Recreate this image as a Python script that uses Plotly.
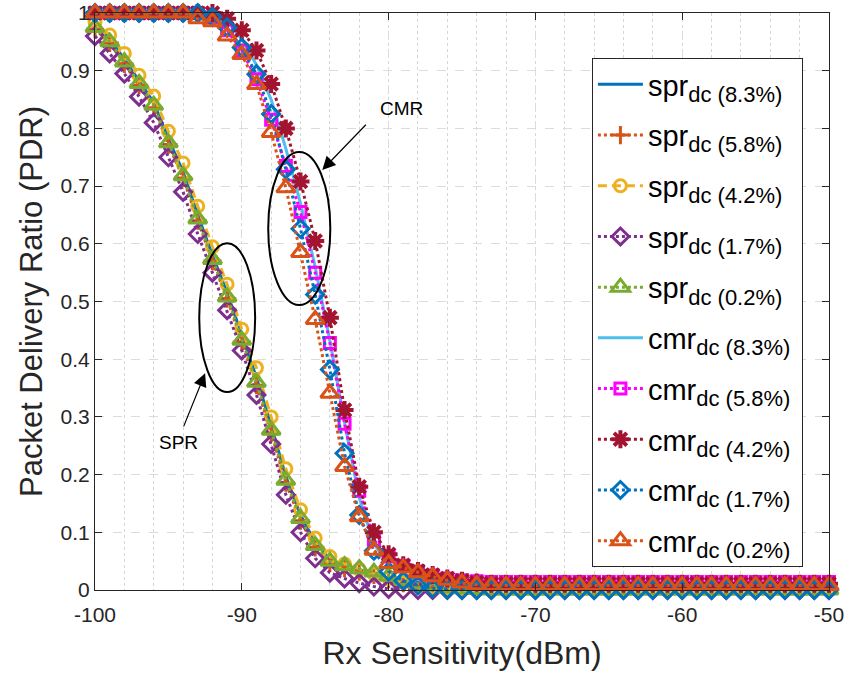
import plotly.graph_objects as go

x_dbm = list(range(-100, -49))

spr_83 = [0.978, 0.955, 0.92, 0.882, 0.845, 0.782, 0.725, 0.65, 0.58, 0.515, 0.44, 0.368, 0.285, 0.197, 0.13,
          0.082, 0.053, 0.042, 0.035, 0.028, 0.02, 0.013, 0.008, 0.004, 0.002, 0.001] + [0.0] * 25
spr_58 = [0.972, 0.948, 0.912, 0.875, 0.836, 0.772, 0.714, 0.64, 0.57, 0.505, 0.43, 0.355, 0.272, 0.186, 0.12,
          0.074, 0.047, 0.038, 0.032, 0.026, 0.019, 0.012, 0.007, 0.004, 0.002, 0.001] + [0.0] * 25
spr_42 = [0.985, 0.962, 0.93, 0.892, 0.856, 0.795, 0.74, 0.665, 0.595, 0.53, 0.452, 0.385, 0.30, 0.21, 0.139,
          0.09, 0.058, 0.045, 0.036, 0.028, 0.02, 0.013, 0.008, 0.004, 0.002, 0.001] + [0.0] * 25
spr_17 = [0.96, 0.93, 0.895, 0.855, 0.81, 0.75, 0.69, 0.617, 0.55, 0.485, 0.415, 0.338, 0.253, 0.165, 0.1,
          0.055, 0.03, 0.02, 0.012, 0.006, 0.002] + [0.0] * 30
spr_02 = [0.975, 0.95, 0.915, 0.878, 0.84, 0.775, 0.718, 0.643, 0.573, 0.508, 0.433, 0.36, 0.277, 0.19, 0.124,
          0.077, 0.05, 0.042, 0.037, 0.031, 0.024, 0.017, 0.011, 0.007, 0.004, 0.002, 0.001] + [0.0] * 24

cmr_83 = [1.0] * 9 + [0.985, 0.955, 0.91, 0.85, 0.765, 0.67, 0.56, 0.432, 0.29, 0.16, 0.08, 0.045, 0.028,
                      0.018, 0.012, 0.008, 0.006] + [0.005] * 25
cmr_58 = [1.0] * 8 + [0.992, 0.97, 0.935, 0.885, 0.815, 0.735, 0.655, 0.55, 0.428, 0.288, 0.172, 0.087, 0.058,
                      0.042, 0.032, 0.025, 0.02, 0.017, 0.015] + [0.014] * 24
cmr_42 = [1.0] * 9 + [0.99, 0.97, 0.935, 0.877, 0.80, 0.708, 0.605, 0.472, 0.312, 0.179, 0.1, 0.062, 0.043,
                      0.033, 0.026, 0.02, 0.016, 0.013] + [0.011] * 24
cmr_17 = [1.0] * 8 + [0.993, 0.975, 0.94, 0.894, 0.825, 0.729, 0.626, 0.512, 0.382, 0.237, 0.13, 0.068, 0.032,
                      0.016, 0.008, 0.003, 0.001] + [0.0] * 26
cmr_02 = [1.0] * 7 + [0.99, 0.985, 0.96, 0.928, 0.876, 0.793, 0.697, 0.585, 0.469, 0.341, 0.214, 0.127, 0.069,
                      0.046, 0.038, 0.03, 0.023, 0.017, 0.012, 0.009] + [0.008] * 24

series_bases = ["spr", "spr", "spr", "spr", "spr", "cmr", "cmr", "cmr", "cmr", "cmr"]
series_subs = ["dc (8.3%)", "dc (5.8%)", "dc (4.2%)", "dc (1.7%)", "dc (0.2%)",
               "dc (8.3%)", "dc (5.8%)", "dc (4.2%)", "dc (1.7%)", "dc (0.2%)"]
series_vals = [spr_83, spr_58, spr_42, spr_17, spr_02, cmr_83, cmr_58, cmr_42, cmr_17, cmr_02]

x_tickvals = [-100, -90, -80, -70, -60, -50]
x_ticktext = ["-100", "-90", "-80", "-70", "-60", "-50"]
y_tickvals = [0, 0.1, 0.2, 0.3, 0.4, 0.5, 0.6, 0.7, 0.8, 0.9, 1]
y_ticktext = ["0", "0.1", "0.2", "0.3", "0.4", "0.5", "0.6", "0.7", "0.8", "0.9", "1"]

styles = [
    dict(color="#0072BD", dash="solid", symbol=None),
    dict(color="#D95319", dash="dot", symbol="cross-thin-open"),
    dict(color="#EDB120", dash="9px,5px", symbol="circle-open"),
    dict(color="#7E2F8E", dash="dot", symbol="diamond-open"),
    dict(color="#77AC30", dash="dot", symbol="triangle-up-open"),
    dict(color="#4DBEEE", dash="solid", symbol=None),
    dict(color="#FF00FF", dash="dot", symbol="square-open"),
    dict(color="#A2142F", dash="dot", symbol="asterisk-open"),
    dict(color="#0072BD", dash="dot", symbol="diamond-open"),
    dict(color="#D95319", dash="dot", symbol="triangle-up-open"),
]

fig = go.Figure()
for i, (base, sub, vals, st) in enumerate(zip(series_bases, series_subs, series_vals, styles)):
    name = f'{base}<sub><span style="font-size:22px">{sub}&nbsp;</span></sub>'
    if st["symbol"] is None:
        mode = "lines"
        marker = None
    else:
        mode = "lines+markers"
        size = 13
        lw = 3
        if st["symbol"] == "asterisk-open":
            size, lw = 15, 4
        if st["symbol"] == "circle-open":
            size = 12
        if st["symbol"] == "square-open":
            size = 11
        if st["symbol"] == "triangle-up-open":
            size = 16
        marker = dict(symbol=st["symbol"], size=size, color=st["color"],
                      line=dict(color=st["color"], width=lw))
    fig.add_trace(go.Scatter(
        x=x_dbm, y=vals, name=name, mode=mode, legendgroup=f"g{i}",
        line=dict(color=st["color"], width=3, dash=st["dash"]),
        marker=marker, cliponaxis=False,
    ))

axis_common = dict(
    showline=True, linecolor="#262626", linewidth=1, mirror="ticks",
    ticks="inside", ticklen=7, tickwidth=1, tickcolor="#262626",
    showgrid=True, gridcolor="#dcdcdc", gridwidth=1, griddash="dash",
    zeroline=False, tickfont=dict(size=21, color="#262626"),
    ticklabeloverflow="allow", automargin=False,
)

fig.update_xaxes(
    range=[-100, -50], tickvals=x_tickvals, ticktext=x_ticktext,
    minor=dict(dtick=2, tick0=-100, showgrid=True, gridcolor="#d6d6d6", griddash="dot", ticks=""),
    title=dict(text="Rx Sensitivity(dBm)", font=dict(size=32, color="#262626"), standoff=16),
    ticklabelstandoff=6,
    **axis_common,
)
fig.update_yaxes(
    range=[0, 1], tickvals=y_tickvals, ticktext=y_ticktext,
    title=dict(text="Packet Delivery Ratio (PDR)", font=dict(size=31, color="#262626"), standoff=8),
    **axis_common,
)

# ellipses
fig.add_shape(type="circle", xref="x", yref="y", x0=-88.2, x1=-83.97, y0=0.494, y1=0.759,
              line=dict(color="black", width=2))
fig.add_shape(type="circle", xref="x", yref="y", x0=-92.9, x1=-89.09, y0=0.343, y1=0.601,
              line=dict(color="black", width=2))

# arrows
fig.add_annotation(x=-84.52, y=0.728, ax=-81.45, ay=0.809, axref="x", ayref="y", xref="x", yref="y",
                   text="", showarrow=True, arrowhead=2, arrowsize=2.2, arrowwidth=1.2, arrowcolor="black",
                   standoff=0, startstandoff=0)
fig.add_annotation(x=-92.5, y=0.3755, ax=-94.0, ay=0.281, axref="x", ayref="y", xref="x", yref="y",
                   text="", showarrow=True, arrowhead=2, arrowsize=2.2, arrowwidth=1.2, arrowcolor="black",
                   standoff=0, startstandoff=0)
fig.add_annotation(x=-79.13, y=0.835, xref="x", yref="y", text="CMR", showarrow=False,
                   font=dict(size=19, color="black"))
fig.add_annotation(x=-94.34, y=0.255, xref="x", yref="y", text="SPR", showarrow=False,
                   font=dict(size=19, color="black"))

fig.update_layout(
    width=844, height=677,
    margin=dict(l=95, r=15, t=13, b=87, autoexpand=False),
    paper_bgcolor="white", plot_bgcolor="white",
    font=dict(family="Liberation Sans, Arial, sans-serif", color="#262626"),
    legend=dict(x=0.677, y=0.922, xanchor="left", yanchor="top",
                bgcolor="white", bordercolor="#262626", borderwidth=1,
                font=dict(size=29, color="black"), itemwidth=45, tracegroupgap=10),
    showlegend=True,
)

fig.write_html("out.html")
